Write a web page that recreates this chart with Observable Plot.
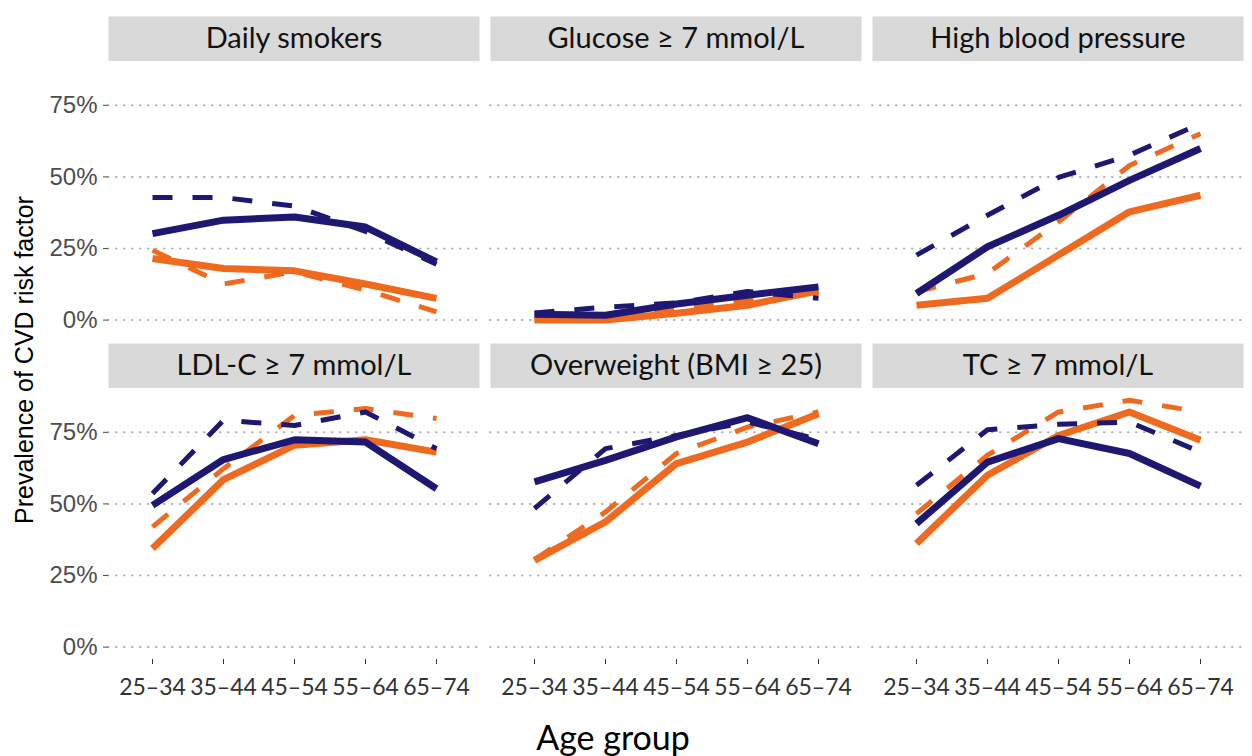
<!DOCTYPE html>
<html>
<head>
<meta charset="utf-8">
<script src="https://cdn.jsdelivr.net/npm/d3@7"></script>
<script src="https://cdn.jsdelivr.net/npm/@observablehq/plot@0.6"></script>
<style>
  body { margin: 0; background: #fff; }
  #chart { width: 1252px; height: 756px; }
</style>
</head>
<body>
<div id="chart"></div>
<script>
// ---- data ----
const ageGroups = ["25–34", "35–44", "45–54", "55–64", "65–74"];
const riskFactors = [
  "Daily smokers", "Glucose ≥ 7 mmol/L", "High blood pressure",
  "LDL-C ≥ 7 mmol/L", "Overweight (BMI ≥ 25)", "TC ≥ 7 mmol/L"
];
const seriesNames = ["Group A, solid", "Group A, dashed", "Group B, solid", "Group B, dashed"];
const yTicks = [0, 25, 50, 75];

// values in %, one list per series in the order of seriesNames
const dailySmokers = [
  [30.2, 34.9, 36.0, 32.5, 20.3],
  [42.8, 42.8, 39.8, 31.0, 19.5],
  [21.5, 18.0, 17.2, 12.6, 7.6],
  [24.4, 12.6, 16.9, 10.5, 2.9]
];
const glucose = [
  [2.0, 1.7, 5.6, 8.7, 11.6],
  [2.5, 4.5, 6.0, 10.0, 7.6],
  [0.0, 0.0, 2.4, 5.2, 10.2],
  [0.5, 1.0, 4.0, 7.0, 9.5]
];
const highBloodPressure = [
  [9.3, 25.6, 36.6, 48.8, 59.9],
  [22.7, 36.6, 49.8, 57.6, 68.6],
  [5.2, 7.6, 22.7, 37.8, 43.6],
  [9.9, 16.3, 34.3, 54.0, 65.1]
];
const ldlC = [
  [49.5, 65.5, 72.4, 71.6, 55.3],
  [53.6, 79.2, 77.4, 82.1, 69.3],
  [34.4, 58.5, 70.5, 72.4, 68.1],
  [42.0, 62.3, 80.9, 83.3, 79.8]
];
const overweight = [
  [57.7, 65.2, 73.4, 80.1, 71.0],
  [48.4, 69.3, 73.9, 78.6, 72.5],
  [30.3, 43.7, 64.1, 71.6, 81.5],
  [30.5, 47.2, 67.6, 76.8, 82.1]
];
const totalCholesterol = [
  [43.1, 64.6, 72.8, 67.6, 56.2],
  [56.5, 75.9, 77.8, 78.6, 68.1],
  [36.2, 60.0, 73.9, 82.1, 72.2],
  [46.6, 67.0, 82.1, 86.2, 82.1]
];
const panels = [dailySmokers, glucose, highBloodPressure, ldlC, overweight, totalCholesterol];

// ---- build tidy table ----
const rows = [];
panels.forEach((panel, i) =>
  panel.forEach((vals, s) =>
    vals.forEach((v, k) =>
      rows.push({risk: riskFactors[i], col: i % 3, row: Math.floor(i / 3),
                 series: seriesNames[s], age: ageGroups[k], value: v}))));
const strips = riskFactors.map((r, i) => ({risk: r, col: i % 3, row: Math.floor(i / 3)}));

const navy = "#1f1873";
const orange = "#ef6a1e";
const seriesStyle = {
  "Group A, solid":  {stroke: navy, strokeWidth: 7},
  "Group A, dashed": {stroke: navy, strokeWidth: 5, strokeDasharray: "20,20"},
  "Group B, solid":  {stroke: orange, strokeWidth: 7},
  "Group B, dashed": {stroke: orange, strokeWidth: 5, strokeDasharray: "20,20"}
};
const drawOrder = ["Group B, dashed", "Group B, solid", "Group A, dashed", "Group A, solid"];

const W = 1252, H = 756, mt = 61, mb = 96.5;
const fyPad = 0.17;
const bandH = (H - mt - mb) / (2 - fyPad) * (1 - fyPad);

const chart = Plot.plot({
  width: W, height: H,
  marginLeft: 108, marginRight: 9, marginTop: mt, marginBottom: mb,
  style: {background: "#fff", fontFamily: "Lato"},
  fx: {axis: null, domain: [0, 1, 2], paddingInner: 0.0288, paddingOuter: 0},
  fy: {axis: null, domain: [0, 1], paddingInner: fyPad, paddingOuter: 0},
  x: {type: "point", domain: ageGroups, padding: 0.6},
  y: {domain: [-4.33, 90.3]},
  marks: [
    Plot.frame({fill: "#d9d9d9", stroke: null, insetTop: -45, insetBottom: bandH}),
    Plot.text(strips, {fx: "col", fy: "row", text: "risk", frameAnchor: "top", dy: -22.5,
      lineAnchor: "middle", fontSize: 29, fontFamily: "Lato", fill: "#111"}),
    Plot.gridY(yTicks, {stroke: "#b0b0b0", strokeOpacity: 1, strokeWidth: 2,
      strokeDasharray: "0.5,7.5", strokeLinecap: "round"}),
    Plot.axisY(yTicks, {tickFormat: d => d + "%", tickSize: 5, tickPadding: 6,
      fontSize: 24, fontFamily: "Liberation Sans", color: "#4d4d4d", label: null}),
    Plot.axisX({tickSize: 5, tickPadding: 14, fontSize: 23, fontFamily: "Lato",
      color: "#333", label: null}),
    ...drawOrder.map(name => Plot.line(rows.filter(d => d.series === name), {
      x: "age", y: "value", fx: "col", fy: "row",
      ...seriesStyle[name], strokeLinecap: "butt", strokeLinejoin: "round"
    }))
  ]
});

const svg = d3.select(chart);
svg.append("text")
  .attr("transform", "translate(33,360) rotate(-90)")
  .attr("text-anchor", "middle")
  .attr("font-family", "Liberation Sans")
  .attr("font-size", 25)
  .attr("fill", "#000")
  .text("Prevalence of CVD risk factor");
svg.append("text")
  .attr("x", 613).attr("y", 750)
  .attr("text-anchor", "middle")
  .attr("font-family", "Lato")
  .attr("font-size", 34)
  .attr("fill", "#000")
  .text("Age group");

document.getElementById("chart").appendChild(chart);
</script>
</body>
</html>
